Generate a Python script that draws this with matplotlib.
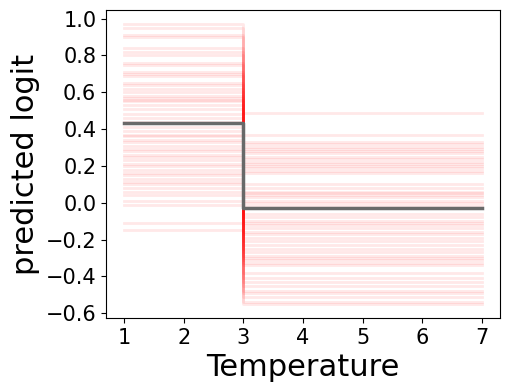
import numpy as np
import matplotlib
matplotlib.use('Agg')
import matplotlib.pyplot as plt

# ICE curves: value below the split (x 1..3) and above it (x 3..7)
x_min, x_split, x_max = 1, 3, 7
left_vals = [0.97, 0.95, 0.91, 0.90, 0.84, 0.82, 0.80, 0.76, 0.75, 0.71,
             0.70, 0.69, 0.65, 0.64, 0.62, 0.60, 0.58, 0.57, 0.56, 0.55,
             0.53, 0.51, 0.48, 0.46, 0.44, 0.41, 0.39, 0.37, 0.36, 0.34,
             0.33, 0.31, 0.29, 0.28, 0.26, 0.25, 0.23, 0.21, 0.20, 0.18,
             0.16, 0.15, 0.13, 0.11, 0.10, 0.08, 0.06, 0.04, 0.01, -0.01,
             -0.11, -0.15]
right_vals = [0.49, 0.37, 0.33, 0.32, 0.30, 0.29, 0.28, 0.27, 0.25, 0.24,
              0.22, 0.21, 0.20, 0.19, 0.17, 0.16, 0.10, 0.08, 0.06, 0.05,
              0.04, 0.03, 0.01, 0.00, -0.02, -0.06, -0.08, -0.10, -0.11, -0.12,
              -0.14, -0.16, -0.17, -0.19, -0.21, -0.23, -0.25, -0.27, -0.29, -0.30,
              -0.31, -0.33, -0.34, -0.38, -0.41, -0.43, -0.45, -0.48, -0.49, -0.51,
              -0.54, -0.55]
mean_left = 0.435
mean_right = -0.03
y_ticks = [-0.6, -0.4, -0.2, 0.0, 0.2, 0.4, 0.6, 0.8, 1.0]

fig = plt.figure(figsize=(5.1, 3.92), dpi=100)
ax = fig.add_axes([0.208, 0.189, 0.772, 0.785])

for l, r in zip(left_vals, right_vals):
    ax.plot([x_min, x_split, x_split, x_max], [l, l, r, r],
            color='red', alpha=0.09, lw=2)

ax.plot([x_min, x_split, x_split, x_max],
        [mean_left, mean_left, mean_right, mean_right],
        color='dimgray', lw=2.5)

ax.set_xticks(range(1, 8))
ax.set_yticks(y_ticks)
ax.tick_params(labelsize=15)
ax.set_xlabel('Temperature', fontsize=22)
ax.set_ylabel('predicted logit', fontsize=22)

plt.savefig('out.png')
